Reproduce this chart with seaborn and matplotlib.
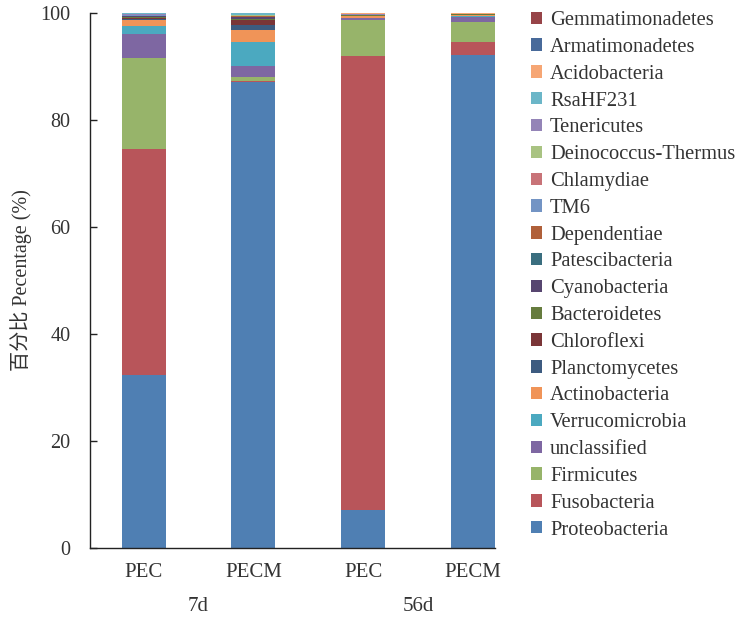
import pandas as pd
import matplotlib
matplotlib.use("Agg")
import matplotlib.pyplot as plt
import seaborn as sns
from matplotlib.patches import Patch

# samples (bars) and their groups
samples = ["PEC 7d", "PECM 7d", "PEC 56d", "PECM 56d"]
tick_labels = ["PEC", "PECM", "PEC", "PECM"]
groups = ["7d", "56d"]

# phyla, bottom of stack first
phyla = ["Proteobacteria", "Fusobacteria", "Firmicutes", "unclassified",
         "Verrucomicrobia", "Actinobacteria", "Planctomycetes", "Chloroflexi",
         "Bacteroidetes", "Cyanobacteria", "Patescibacteria", "Dependentiae",
         "TM6", "Chlamydiae", "Deinococcus-Thermus", "Tenericutes",
         "RsaHF231", "Acidobacteria", "Armatimonadetes", "Gemmatimonadetes"]

colors = ["#4F7FB3", "#B8555A", "#97B46A", "#7E67A2",
          "#4BA9C0", "#F09458", "#3D5B80", "#7A3537",
          "#667C3E", "#574670", "#3A6E7F", "#B0603A",
          "#7394C4", "#C87378", "#A9C382", "#9484B7",
          "#6BB6C8", "#F6A674", "#486A9A", "#974448"]

# relative abundance (%) per sample, same order as phyla
pec_7d = [32.3, 42.3, 17.0, 4.5, 1.5, 1.0, 0.25, 0.15, 0.25, 0.15,
          0.05, 0.05, 0.05, 0.05, 0.05, 0.2, 0.05, 0.1, 0.05, 0.05]
pecm_7d = [87.0, 0.2, 0.9, 2.0, 4.5, 2.2, 0.9, 0.9, 0.3, 0.3,
           0.1, 0.05, 0.1, 0.05, 0.05, 0.15, 0.2, 0.05, 0.05, 0.05]
pec_56d = [7.1, 84.9, 6.6, 0.5, 0.05, 0.2, 0.1, 0.05, 0.05, 0.05,
           0.02, 0.02, 0.02, 0.02, 0.02, 0.1, 0.02, 0.1, 0.2, 0.03]
pecm_56d = [92.1, 2.5, 3.7, 0.9, 0.2, 0.2, 0.05, 0.05, 0.02, 0.02,
            0.02, 0.02, 0.02, 0.02, 0.02, 0.02, 0.02, 0.1, 0.02, 0.2]

df = pd.DataFrame({"PEC 7d": pec_7d, "PECM 7d": pecm_7d,
                   "PEC 56d": pec_56d, "PECM 56d": pecm_56d}, index=phyla)

sns.set_style("white")
plt.rcParams["font.family"] = ["Liberation Serif", "Noto Sans CJK SC"]

fig = plt.figure(figsize=(7.43, 6.17), dpi=100)
ax = fig.add_axes([0.121, 0.112, 0.545, 0.867])

bottom = pd.Series(0.0, index=samples)
for name, col in zip(phyla, colors):
    vals = df.loc[name, samples]
    sns.barplot(x=samples, y=vals.values, bottom=bottom.values, color=col,
                width=0.4, ax=ax, saturation=1, linewidth=0, order=samples)
    bottom = bottom + vals

ax.set_xlim(-0.49, 3.2)
ax.set_ylim(0, 100)
ax.set_yticks([0, 20, 40, 60, 80, 100])
ax.set_xticks(range(4))
ax.set_xticklabels(tick_labels)
ax.tick_params(axis="y", direction="in", length=5, width=1, labelsize=14.5,
               pad=14, left=True, colors="#222222")
ax.tick_params(axis="x", length=0, labelsize=15, pad=11, colors="#222222")
for lab in ax.get_yticklabels() + ax.get_xticklabels():
    lab.set_color("#333333")
for s in ["top", "right"]:
    ax.spines[s].set_visible(False)
for s in ["left", "bottom"]:
    ax.spines[s].set_color("#222222")
    ax.spines[s].set_linewidth(1)

ax.set_ylabel("百分比 Pecentage (%)", fontsize=14.5, color="#333333", labelpad=6)
ax.set_xlabel("")

# group labels under the sample labels
for i, g in enumerate(groups):
    ax.text(2 * i + 0.5, -0.11, g, transform=ax.get_xaxis_transform(),
            ha="center", va="center", fontsize=15, color="#333333")

handles = [Patch(facecolor=c, edgecolor="none", label=n)
           for n, c in zip(phyla, colors)][::-1]
fig.legend(handles=handles, loc="upper left", bbox_to_anchor=(0.714, 0.982),
           frameon=False, fontsize=14.8, handlelength=0.55, handleheight=0.55,
           handletextpad=0.4, labelspacing=0.38, borderaxespad=0, borderpad=0,
           labelcolor="#333333")

plt.savefig("out.png", dpi=100)
plt.close()
